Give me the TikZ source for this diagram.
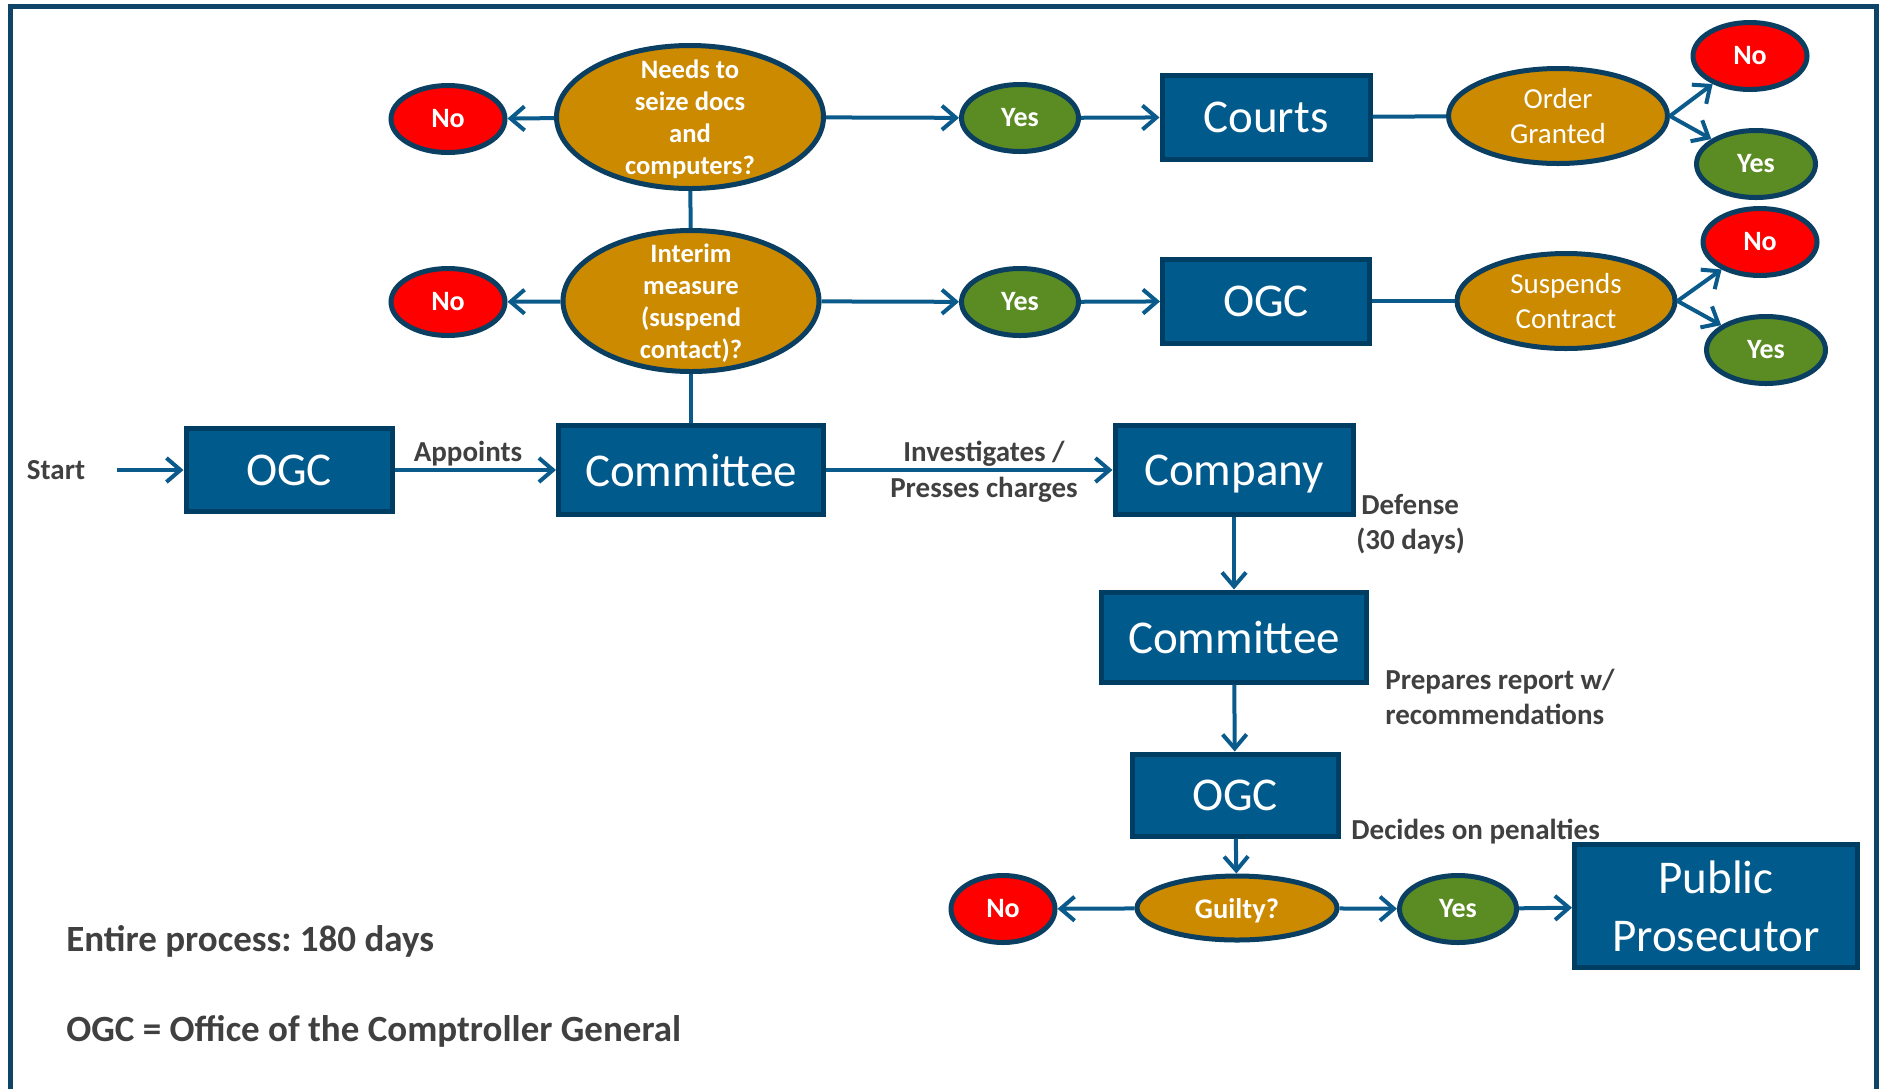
\documentclass[tikz,border=0pt]{standalone}
\usepackage{fontspec}
\setmainfont{Carlito}
\usetikzlibrary{shapes.geometric,arrows.meta}
\definecolor{blockfill}{HTML}{005A8C}
\definecolor{blockline}{HTML}{003D62}
\definecolor{ringcol}{HTML}{0B3F62}
\definecolor{askfill}{HTML}{CC8A00}
\definecolor{yesfill}{HTML}{5B8C23}
\definecolor{nofill}{HTML}{FF0000}
\definecolor{flowcol}{HTML}{0A5B8C}
\definecolor{notecol}{HTML}{404040}
\definecolor{framecol}{HTML}{0E4467}
\frenchspacing

\begin{document}
\begin{tikzpicture}[x=0.5pt,y=-0.5pt,
	block/.style={draw=blockline, fill=blockfill, line width=2.5pt, text=white, inner sep=0pt, text depth=0pt, align=center, font=\fontsize{23.5}{28.75}\selectfont},
	query/.style={ellipse, draw=ringcol, fill=askfill, line width=2.5pt, text=white, inner xsep=0pt, inner ysep=-8pt, text depth=0pt, align=center},
	yesball/.style={ellipse, draw=ringcol, fill=yesfill, line width=2.5pt, text=white, inner sep=0pt, minimum width=58.5pt, minimum height=33.5pt, font=\fontsize{14}{16}\selectfont\bfseries},
	noball/.style={ellipse, draw=ringcol, fill=nofill, line width=2.5pt, text=white, inner sep=0pt, minimum width=57pt, minimum height=33.5pt, font=\fontsize{14}{16}\selectfont\bfseries},
	note/.style={text=notecol, inner sep=0pt, font=\fontsize{14.5}{17.5}\selectfont\bfseries},
	flow/.style={draw=flowcol, line width=2pt, -{Straight Barb[length=7pt,width=12pt]}},
	link/.style={draw=flowcol, line width=2pt}]
	\useasboundingbox (0,0) rectangle (1879,1089);
	\draw[framecol, line width=2.5pt] (10.5,1089) -- (10.5,6.5) -- (1876.5,6.5) -- (1876.5,1089);

	\node [query, minimum width=133.5pt, minimum height=71.5pt, font=\fontsize{13.3}{16}\selectfont\bfseries] (seize) at (690,117) {Needs to\\seize docs\\and\\computers?};
	\node [noball] (seizeno) at (448,119) {No};
	\node [yesball] (seizeyes) at (1020,118) {Yes};
	\node [block, minimum width=104pt, minimum height=42pt] (courts) at (1266,117) {Courts};
	\node [query, minimum width=109.5pt, minimum height=47.5pt, font=\fontsize{14.5}{17.5}\selectfont] (order) at (1558,116) {Order\\Granted};
	\node [noball] (orderno) at (1750,56) {No};
	\node [yesball, minimum width=59.5pt] (orderyes) at (1756,164) {Yes};

	\node [query, minimum width=128pt, minimum height=70.5pt, font=\fontsize{13.3}{16}\selectfont\bfseries] (interim) at (691,301) {Interim\\measure\\(suspend\\contact)?};
	\node [noball] (interimno) at (448,302) {No};
	\node [yesball] (interimyes) at (1020,302) {Yes};
	\node [block, minimum width=103.5pt, minimum height=42pt] (ogctop) at (1266,301) {OGC};
	\node [query, minimum width=109pt, minimum height=47.5pt, font=\fontsize{14.5}{17.5}\selectfont] (suspend) at (1566,301) {Suspends\\Contract};
	\node [noball] (suspendno) at (1760,242) {No};
	\node [yesball, minimum width=59.5pt] (suspendyes) at (1766,350) {Yes};

	\node [note] (start) at (56,470) {Start};
	\node [block, minimum width=103pt, minimum height=41.5pt] (ogcstart) at (289,470) {OGC};
	\node [block, minimum width=132.5pt, minimum height=44.5pt] (comma) at (691,470) {Committee};
	\node [block, minimum width=119pt, minimum height=44.5pt] (company) at (1234,470) {Company};
	\node [block, minimum width=132.5pt, minimum height=45pt] (commb) at (1234,637) {Committee};
	\node [block, minimum width=103pt, minimum height=41pt] (ogcend) at (1235,795) {OGC};
	\node [query, minimum width=100pt, minimum height=32pt, font=\fontsize{14.25}{16}\selectfont\bfseries] (guilty) at (1237,908) {Guilty?};
	\node [noball, minimum width=52pt] (guiltyno) at (1003,909) {No};
	\node [yesball] (guiltyyes) at (1458,909) {Yes};
	\node [block, minimum width=141.5pt, minimum height=61.5pt] (pp) at (1716,906) {Public\\Prosecutor};

	\node [note] (appoints) at (468,454) {Appoints};
	\node [note, align=center, font=\fontsize{14.5}{18}\selectfont\bfseries] (charges) at (984,472) {Investigates /\\Presses charges};
	\node [note, anchor=west, align=left] (defense) at (1356,524) {\hspace*{2.5pt}Defense\\(30 days)};
	\node [note, anchor=west, align=left] (report) at (1385,697) {Prepares report w/\\recommendations};
	\node [note, anchor=west] (penalties) at (1351,832) {Decides on penalties};
	\node [note, anchor=west, font=\fontsize{18.5}{22}\selectfont\bfseries] (total) at (66,941) {Entire process: 180 days};
	\node [note, anchor=west, font=\fontsize{18.5}{22}\selectfont\bfseries] (legend) at (66,1031) {OGC = Office of the Comptroller General};

	\draw [flow] (seize) -- (seizeno);
	\draw [flow] (seize) -- (seizeyes);
	\draw [flow] (seizeyes) -- (courts);
	\draw [link] (courts) -- (order);
	\draw [flow] (order.east) -- (orderno);
	\draw [flow] (order.east) -- (orderyes);
	\draw [link] (seize) -- (interim);
	\draw [flow] (interim) -- (interimno);
	\draw [flow] (interim) -- (interimyes);
	\draw [flow] (interimyes) -- (ogctop);
	\draw [link] (ogctop) -- (suspend);
	\draw [flow] (suspend.east) -- (suspendno);
	\draw [flow] (suspend.east) -- (suspendyes);
	\draw [link] (interim) -- (comma);
	\draw [flow, shorten <=16pt] (start) -- (ogcstart);
	\draw [flow] (ogcstart) -- (comma);
	\draw [flow] (comma) -- (company);
	\draw [flow] (company) -- (commb);
	\draw [flow] (commb) -- (ogcend);
	\draw [flow] (ogcend) -- (guilty);
	\draw [flow] (guilty) -- (guiltyno);
	\draw [flow] (guilty) -- (guiltyyes);
	\draw [flow] (guiltyyes) -- (pp);
\end{tikzpicture}
\end{document}
